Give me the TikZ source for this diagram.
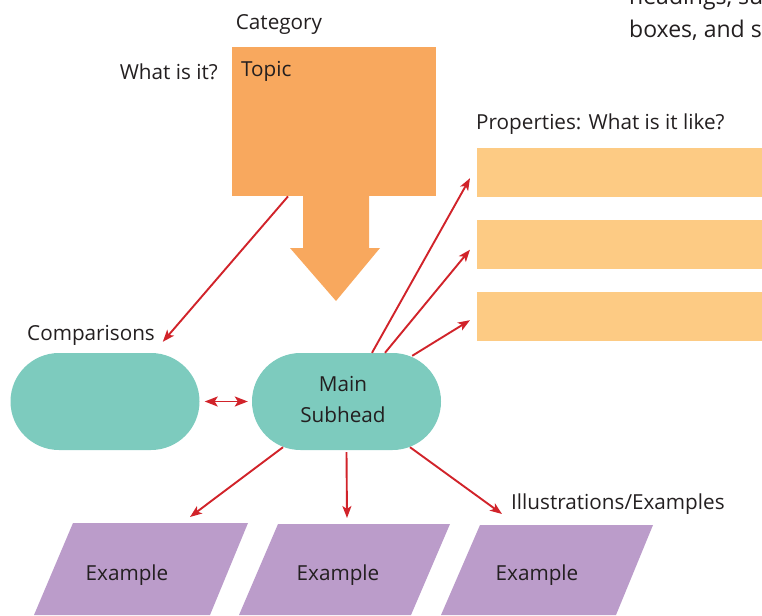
\documentclass[tikz,border=0pt]{standalone}
\usepackage{fontspec}
\setmainfont{Open Sans}
\usetikzlibrary{arrows.meta}
\definecolor{topicorange}{HTML}{F8A85E}
\definecolor{proporange}{HTML}{FDCB84}
\definecolor{tealc}{HTML}{7DCBBE}
\definecolor{purplec}{HTML}{BB9CCA}
\definecolor{redc}{HTML}{D1232A}
\definecolor{textc}{HTML}{231F20}
\tikzset{
  lbl/.style={inner sep=0pt, text=textc, font=\fontsize{20.7}{23}\selectfont},
  propbox/.style={fill=proporange, minimum width=300, minimum height=49, inner sep=0pt, anchor=north west},
  stadium/.style={fill=tealc, minimum width=189, minimum height=97, rounded corners=48.5, inner sep=0pt},
  arr/.style={draw=redc, line width=1.9pt, -{Stealth[length=12pt,width=9pt,inset=3pt]}},
  arrtwo/.style={draw=redc, line width=1.9pt, {Stealth[length=13pt,width=10pt,inset=3pt]}-{Stealth[length=13pt,width=10pt,inset=3pt]}},
  para/.style={fill=purplec},
}
\begin{document}
\begin{tikzpicture}[x=1pt,y=-1pt]
\useasboundingbox (0,0) rectangle (762,615);
\clip (0,0) rectangle (762,615);
% top-right partial text (cut off at the edges as in the reference)
\node[inner sep=0pt, anchor=base west, text=textc, font=\fontsize{23}{32}\selectfont] (hd1) at (629,5) {headings, subheads,};
\node[inner sep=0pt, anchor=base west, text=textc, font=\fontsize{23}{32}\selectfont] (hd2) at (629,38) {boxes, and sidebars};
% topic
\node[fill=topicorange, minimum width=204, minimum height=149, anchor=north west, inner sep=0pt] (topic) at (232,47) {};
\fill[topicorange] (303,195) -- (369,195) -- (369,248) -- (380,248) -- (336,301) -- (290,248) -- (303,248) -- cycle;
\node[lbl, anchor=west] (topiclbl) at (241,71) {Topic};
\node[lbl] (cat) at (279,24) {Category};
\node[lbl, anchor=east] (what) at (218,72) {What is it?};
% properties
\node[lbl, anchor=west] (props) at (476,124) {Properties: What is it like?};
\node[propbox] (p1) at (477,148) {};
\node[propbox] (p2) at (477,220) {};
\node[propbox] (p3) at (477,292) {};
% comparisons and main
\node[lbl, anchor=west] (comp) at (27,335) {Comparisons};
\node[stadium] (compbox) at (105,401.5) {};
\node[stadium] (main) at (346.5,401.5) {};
\node[lbl, align=center, font=\fontsize{20.7}{31}\selectfont] (mainlbl) at (343,399.5) {Main\\Subhead};
% examples
\fill[para] (73,523) -- (248,523) -- (210,615) -- (34,615) -- cycle;
\fill[para] (278,524) -- (450,524) -- (411,615) -- (239,615) -- cycle;
\fill[para] (480,525) -- (653,525) -- (616,615) -- (441,615) -- cycle;
\node[lbl] (ex1) at (127,575) {Example};
\node[lbl] (ex2) at (338,575) {Example};
\node[lbl] (ex3) at (537,575) {Example};
\node[lbl, anchor=west] (illus) at (511,504) {Illustrations/Examples};
% connectors
\draw[arr] ([xshift=56]topic.south west) -- ([xshift=152.5,yshift=11]compbox.north west);
\draw[arr] ([xshift=25.5]main.north) -- ([xshift=-7,yshift=-5.5]p1.west);
\draw[arr] ([xshift=38.5]main.north) -- ([xshift=-7,yshift=-5]p2.west);
\draw[arr] ([xshift=-29,yshift=-3]main.north east) -- ([xshift=-7,yshift=-3.5]p3.west);
\draw[arrtwo, shorten <=5pt, shorten >=4pt] (compbox.east) -- (main.west);
\draw[arr] ([xshift=-63.5,yshift=3]main.south) -- ([xshift=63,yshift=58]ex1.center);
\draw[arr] ([yshift=-2]main.south) -- ([xshift=9,yshift=57]ex2.center);
\draw[arr] ([xshift=63.5,yshift=3]main.south) -- ([xshift=-35,yshift=61]ex3.center);
\end{tikzpicture}
\end{document}
